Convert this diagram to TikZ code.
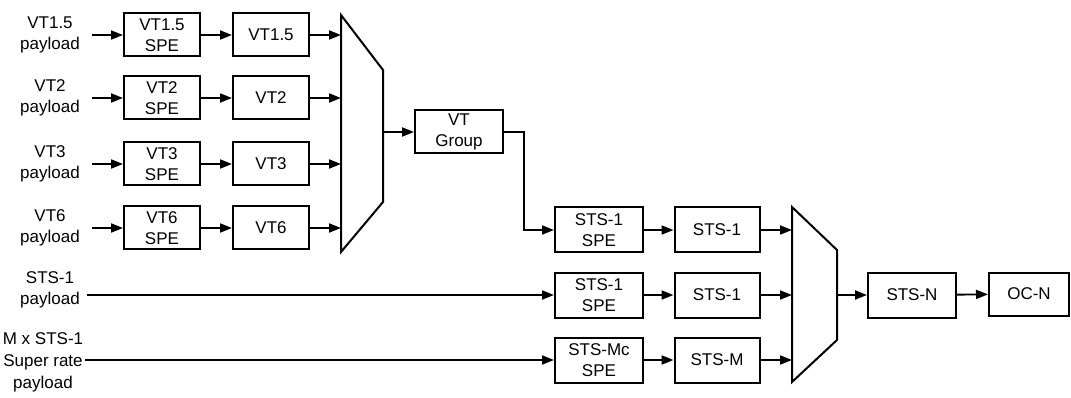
\documentclass[tikz,border=0pt]{standalone}
\usepackage{fontspec}
\setmainfont{Liberation Sans}
\usetikzlibrary{arrows.meta, positioning}

\begin{document}
\begin{tikzpicture}[
    x=1pt, y=-1pt,
    box/.style={rectangle, draw, line width=2pt,
                minimum width=76pt, minimum height=43pt,
                inner sep=0pt, align=center,
                font=\fontsize{17}{21}\selectfont},
    lbl/.style={align=center, inner sep=0pt,
                font=\fontsize{17}{21}\selectfont},
    arrow/.style={-{Triangle[length=12pt,width=9pt]}, line width=1.9pt},
    mux/.style={line width=2pt, line join=miter}
]
\useasboundingbox (0,0) rectangle (1071,398);

% VT tributaries
\foreach \n/\t/\y in {a/VT1.5/35, b/VT2/98, c/VT3/164, d/VT6/228} {
    \node[lbl] (in\n)  at (50,\y)  {\t\\payload};
    \node[box] (spe\n) at (162,\y) {\t\\SPE};
    \node[box] (vt\n)  at (271,\y) {\t};
    \coordinate (muxa\n) at (341,\y);
}

% first multiplexer
\draw[mux] (341,15) -- (383,70) -- (383,202) -- (341,252) -- cycle;
\coordinate (muxaout) at (383,132);

\node[box, minimum width=88pt] (vtgrp) at (459,132) {VT\\Group};

% STS rows
\node[box, minimum width=88pt, minimum height=45pt] (stsspea) at (599,230) {STS-1\\SPE};
\node[box, minimum width=85pt, minimum height=45pt] (stsa)    at (717,230) {STS-1};
\node[box, minimum width=88pt, minimum height=45pt] (stsspeb) at (599,295) {STS-1\\SPE};
\node[box, minimum width=85pt, minimum height=45pt] (stsb)    at (717,295) {STS-1};
\node[box, minimum width=88pt, minimum height=45pt] (stsspec) at (599,360) {STS-Mc\\SPE};
\node[box, minimum width=85pt, minimum height=45pt] (stsc)    at (717,360) {STS-M};

\node[lbl] (stsin)   at (50,290) {STS-1\\payload};
\node[lbl, font=\fontsize{17}{22}\selectfont] (superin) at (43,362) {M x STS-1\\Super rate\\payload};

% second multiplexer
\draw[mux] (792,207) -- (837,250) -- (837,340) -- (792,382) -- cycle;
\coordinate (muxba) at (792,230);
\coordinate (muxbb) at (792,295);
\coordinate (muxbc) at (792,360);
\coordinate (muxbout) at (837,295);

\node[box, minimum width=88pt, minimum height=45pt] (stsn) at (912,295) {STS-N};
\node[box, minimum width=80pt] (ocn) at (1029,294) {OC-N};

% connectors
\foreach \n in {a,b,c,d} {
    \draw[arrow, shorten <=12pt] (in\n.east) -- (spe\n.west);
    \draw[arrow] (spe\n) -- (vt\n);
    \draw[arrow] (vt\n.east) -- (muxa\n);
}
\draw[arrow] (muxaout) -- (vtgrp.west);
\draw[arrow] (vtgrp.east) -- ++(20,0) |- (stsspea.west);
\draw[arrow, shorten <=7pt] (stsin.east |- stsspeb.west) -- (stsspeb.west);
\draw[arrow, shorten <=2pt] (superin.east |- stsspec.west) -- (stsspec.west);
\foreach \a/\b in {stsspea/stsa, stsspeb/stsb, stsspec/stsc}
    \draw[arrow] (\a) -- (\b);
\foreach \a/\b in {stsa/muxba, stsb/muxbb, stsc/muxbc}
    \draw[arrow] (\a.east) -- (\b);
\draw[arrow] (muxbout) -- (stsn.west);
\draw[arrow] (stsn) -- (ocn);
\end{tikzpicture}
\end{document}
